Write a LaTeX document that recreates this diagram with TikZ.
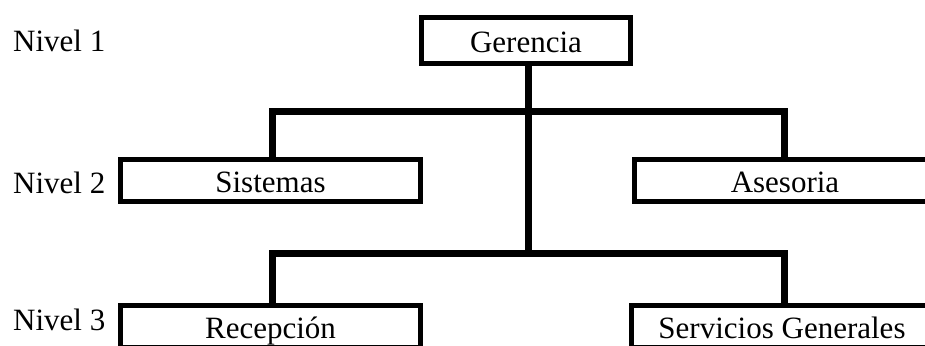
\documentclass[tikz,border=0pt]{standalone}
\usepackage{fontspec}
\setmainfont{Liberation Serif}
\begin{document}
\begin{tikzpicture}[x=1pt,y=-1pt,
  orgbox/.style={draw=black,line width=5pt,fill=white,rectangle,
    text height=24pt,text depth=0pt,inner sep=2pt,font=\fontsize{31}{36}\selectfont},
  lvl/.style={anchor=base west,inner sep=0pt,font=\fontsize{31}{36}\selectfont},
  conn/.style={draw=black,line width=7pt,line join=miter}]
\clip (0,0) rectangle (925,345);
\fill[white] (0,0) rectangle (925,345);
% levels
\node[lvl] (n1) at (13,52) {Nivel 1};
\node[lvl] (n2) at (13,193) {Nivel 2};
\node[lvl] (n3) at (13,330) {Nivel 3};
% junctions
\coordinate (j1) at (528,111);
\coordinate (j2) at (528,253);
% connectors (drawn first, boxes cover ends)
\coordinate (gb) at (528,62);
\draw[conn] (gb) -- (j2);
\coordinate (sn) at (272,159);
\coordinate (an) at (784,159);
\coordinate (rn) at (272,305);
\coordinate (gn) at (784,305);
\draw[conn] (sn) |- (j1) -| (an);
\draw[conn] (rn) |- (j2) -| (gn);
% boxes
\node[orgbox,minimum width=209pt,minimum height=46pt] (G) at (526,40.5) {Gerencia};
\node[orgbox,minimum width=300pt,minimum height=42pt] (S) at (270.5,180) {Sistemas};
\node[orgbox,minimum width=302pt,minimum height=42pt] (A) at (785,180) {Asesoria};
\node[orgbox,minimum width=300pt,minimum height=42pt] (R) at (270.5,326) {Recepción};
\node[orgbox,minimum width=302pt,minimum height=42pt] (SG) at (782,326) {Servicios Generales};
\end{tikzpicture}
\end{document}
